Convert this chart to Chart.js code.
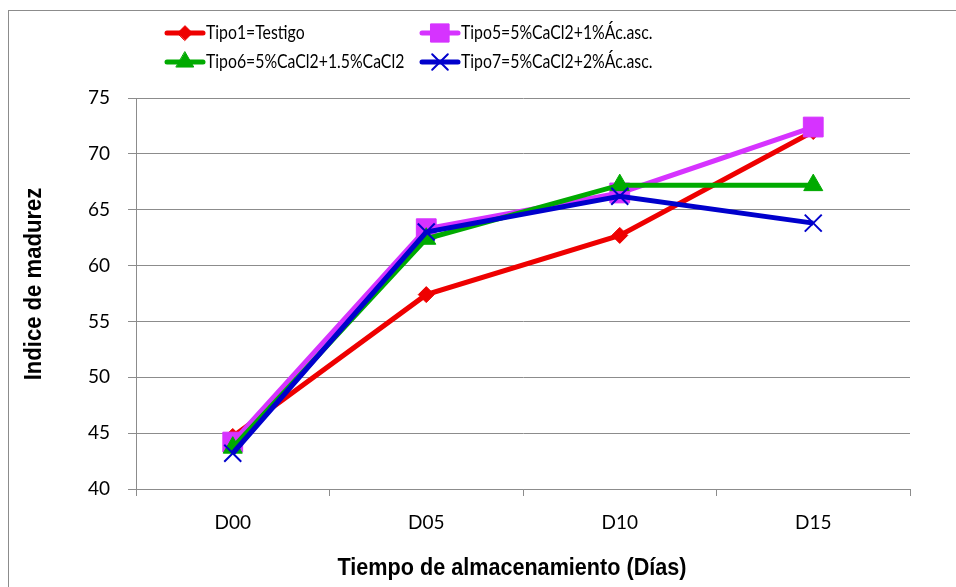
<!DOCTYPE html>
<html>
<head>
<meta charset="utf-8">
<script src="https://cdn.jsdelivr.net/npm/chart.js@4/dist/chart.umd.min.js"></script>
<style>
  body { margin: 0; background: #fff; }
</style>
</head>
<body>
<canvas id="myChart" width="956" height="587"></canvas>
<script>
// Datos del gráfico
const dias = ["D00", "D05", "D10", "D15"];
const tipo1 = [44.7, 57.4, 62.7, 72.0];
const tipo5 = [44.2, 63.3, 66.5, 72.4];
const tipo6 = [43.7, 62.4, 67.2, 67.2];
const tipo7 = [43.2, 63.0, 66.2, 63.8];
const yTicks = [40, 45, 50, 55, 60, 65, 70, 75];

const nombres = [
  "Tipo1=Testigo",
  "Tipo5=5%CaCl2+1%Ác.asc.",
  "Tipo6=5%CaCl2+1.5%CaCl2",
  "Tipo7=5%CaCl2+2%Ác.asc."
];
const tituloX = "Tiempo de almacenamiento (Días)";
const tituloY = "Indice de madurez";

const fuente = "Lato, 'Noto Sans', sans-serif";
const fuenteTitulo = "'Liberation Sans', Arial, sans-serif";

// texto algo comprimido (la fuente original es más estrecha)
function textoEstrecho(c, txt, x, y, factor) {
  const w = c.measureText(txt).width;
  c.fillText(txt, x, y, w * factor);
}

// Marco exterior, títulos de ejes y leyenda en 2 columnas
const marcoLeyenda = {
  id: 'marcoLeyenda',
  beforeDraw(chart) {
    const c = chart.ctx;
    c.save();
    c.fillStyle = '#fff';
    c.fillRect(0, 0, chart.width, chart.height);
    c.strokeStyle = '#8c8c8c';
    c.lineWidth = 1;
    c.strokeRect(8.5, 10.5, 1000, 1000);
    c.restore();
  },
  afterDraw(chart) {
    const c = chart.ctx;
    const pos = [[167, 33], [422, 33], [167, 62], [422, 62]];
    c.save();
    chart.data.datasets.forEach((ds, i) => {
      const [x, y] = pos[i];
      c.strokeStyle = ds.borderColor;
      c.lineWidth = 5;
      c.lineCap = 'round';
      c.beginPath();
      c.moveTo(x, y);
      c.lineTo(x + 36, y);
      c.stroke();
      c.fillStyle = ds.pointBackgroundColor;
      c.strokeStyle = ds.pointBorderColor;
      c.lineWidth = ds.pointBorderWidth;
      Chart.helpers.drawPoint(c, {
        pointStyle: ds.pointStyle,
        radius: ds.pointRadius * 0.92,
        rotation: 0,
        borderWidth: ds.pointBorderWidth
      }, x + 18, y);
      c.fillStyle = '#000';
      c.font = '20px ' + fuente;
      c.textBaseline = 'middle';
      c.textAlign = 'left';
      textoEstrecho(c, ds.label, x + 39, y, 0.79);
    });

    // títulos de ejes
    c.fillStyle = '#000';
    c.font = 'bold 24px ' + fuenteTitulo;
    c.textAlign = 'center';
    c.textBaseline = 'middle';
    textoEstrecho(c, tituloX, 512, 568, 0.9);
    c.translate(34, 284);
    c.rotate(-Math.PI / 2);
    textoEstrecho(c, tituloY, 0, 0, 0.92);
    c.restore();
  }
};

function serie(label, data, color, estilo, radio, bw, orden) {
  return {
    label: label,
    data: data,
    borderColor: color,
    backgroundColor: color,
    borderWidth: 5,
    pointStyle: estilo,
    pointRadius: radio,
    pointHoverRadius: radio,
    pointBackgroundColor: color,
    pointBorderColor: color,
    pointBorderWidth: bw,
    tension: 0,
    order: orden
  };
}

const ctx = document.getElementById("myChart").getContext("2d");
const myChart = new Chart(ctx, {
  type: 'line',
  data: {
    labels: dias,
    datasets: [
      serie(nombres[0], tipo1, '#ee0000', 'rectRot', 8, 1, 4),
      serie(nombres[1], tipo5, '#d633ff', 'rect', 14, 1, 3),
      serie(nombres[2], tipo6, '#00aa00', 'triangle', 11, 1, 2),
      serie(nombres[3], tipo7, '#0000cc', 'crossRot', 12, 2, 1)
    ]
  },
  plugins: [marcoLeyenda],
  options: {
    responsive: false,
    animation: false,
    layout: { padding: { top: 98, right: 46, left: 0, bottom: 0 } },
    plugins: {
      legend: { display: false },
      tooltip: { enabled: false }
    },
    scales: {
      x: {
        offset: true,
        afterFit(scale) { scale.height = 98; },
        grid: {
          offset: true,
          drawOnChartArea: false,
          drawTicks: true,
          tickLength: 7,
          color: '#8c8c8c'
        },
        border: { color: '#8c8c8c' },
        ticks: { color: '#000', font: { family: fuente, size: 19 }, padding: 15 }
      },
      y: {
        min: 40,
        max: 75,
        afterFit(scale) { scale.width = 136; },
        afterBuildTicks(scale) { scale.ticks = yTicks.map(v => ({ value: v })); },
        grid: { color: '#8c8c8c', tickLength: 8 },
        border: { color: '#8c8c8c' },
        ticks: { color: '#000', font: { family: fuente, size: 19 }, padding: 18 }
      }
    }
  }
});
</script>
</body>
</html>
